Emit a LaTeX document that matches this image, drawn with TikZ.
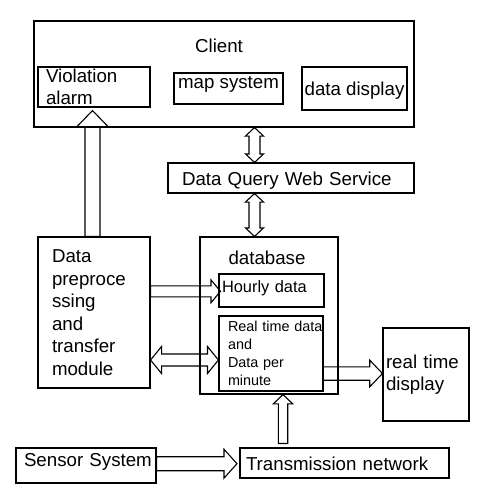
\documentclass[tikz,border=0pt]{standalone}
\usepackage{fontspec}
\setmainfont{Liberation Sans}
\usetikzlibrary{arrows, arrows.meta}
\usetikzlibrary{calc}

% hollow block arrows: from, to, half shaft, half head, head length
\newcommand{\fatarrow}[5]{%
  \coordinate (fa-h) at ($(#2)!#5!(#1)$);
  \draw ($(#1)!#3!90:(#2)$) -- ($(fa-h)!#3!90:(#2)$) -- ($(fa-h)!#4!90:(#2)$) -- (#2)
    -- ($(fa-h)!#4!-90:(#2)$) -- ($(fa-h)!#3!-90:(#2)$) -- ($(#1)!#3!-90:(#2)$) -- cycle;}
\newcommand{\fatdarrow}[5]{%
  \coordinate (fa-a) at ($(#1)!#5!(#2)$);
  \coordinate (fa-b) at ($(#2)!#5!(#1)$);
  \draw (#1) -- ($(fa-a)!#4!90:(#2)$) -- ($(fa-a)!#3!90:(#2)$) -- ($(fa-b)!#3!90:(#2)$)
    -- ($(fa-b)!#4!90:(#2)$) -- (#2) -- ($(fa-b)!#4!-90:(#2)$) -- ($(fa-b)!#3!-90:(#2)$)
    -- ($(fa-a)!#3!-90:(#2)$) -- ($(fa-a)!#4!-90:(#2)$) -- cycle;}

\begin{document}
\begin{tikzpicture}[x=1pt, y=-1pt, line width=1.1pt,
    blk/.style={draw, rectangle, inner sep=0pt, align=left, font=\fontsize{18.7}{22.5}\selectfont},
    one/.style={text height=13.4pt, text depth=3.9pt},
    ttl/.style={anchor=base, inner sep=0pt, font=\fontsize{18.7}{22.5}\selectfont}]
  \useasboundingbox (0,0) rectangle (480,498);

  % client side
  \node[blk, minimum width=380pt, minimum height=106pt] (client) at (224,74) {};
  \node[ttl] (clientname) at (219,52.3) {Client};
  \node[blk, minimum width=112pt, minimum height=40pt, text width=96pt, inner xsep=8pt] (alarm) at (94,87) {Violation\\alarm};
  \node[blk, one, minimum width=109pt, minimum height=31pt, inner xsep=2pt, text depth=13.6pt, align=center] (map) at (228.5,88.5) {map system};
  \node[blk, one, minimum width=105pt, minimum height=43pt, inner xsep=2pt, text depth=0.4pt, align=center] (display) at (354.5,88.5) {data display};
  \node[blk, one, minimum width=246pt, minimum height=30pt, text width=218pt, inner xsep=14pt, text height=19.3pt] (query) at (291,178) {Data Query Web Service};

  % database side
  \node[blk, minimum width=112pt, minimum height=151pt, text width=84pt, inner xsep=14pt] (prep) at (94,312.5) {Data\\preproce\\ssing\\and\\transfer\\module};
  \node[blk, minimum width=138pt, minimum height=157pt] (db) at (269,315.5) {};
  \node[ttl] (dbname) at (267,264.3) {database};
  \node[blk, minimum width=105pt, minimum height=33pt, text width=99pt, inner xsep=3pt, font=\fontsize{16.4}{19.7}\selectfont, text height=11.7pt, text depth=7.3pt] (hourly) at (271.5,290.5) {Hourly data};
  \node[blk, minimum width=104pt, minimum height=75pt, text width=86pt, inner xsep=9pt, font=\fontsize{14.4}{17.8}\selectfont] (realtime) at (271,353.5) {\mbox{Real time data}\\and\\Data per\\minute};
  \node[blk, minimum width=86pt, minimum height=93pt, text width=80pt, inner xsep=3pt] (rtdisplay) at (426,374.5) {real time\\display};
  \node[blk, one, minimum width=140pt, minimum height=35pt, text width=124pt, inner xsep=8pt, text depth=12.4pt] (sensor) at (86,465.5) {\mbox{Sensor System}};
  \node[blk, one, minimum width=209pt, minimum height=30pt, text width=197pt, inner xsep=6pt, text height=17.9pt] (trans) at (344.5,463) {Transmission network};

  % arrows
  \coordinate (a1) at ($(prep.north)+(-1.5,0)$);
  \coordinate (a2) at ($(alarm.south)+(-1.5,3)$);
  \fatarrow{a1}{a2}{7.5pt}{15.5pt}{16pt}
  \coordinate (b1) at ($(client.south)+(30.5,0)$);
  \coordinate (b2) at (b1 |- query.north);
  \fatdarrow{b1}{b2}{5.5pt}{9pt}{8.5pt}
  \coordinate (c1) at (b1 |- query.south);
  \coordinate (c2) at (b1 |- db.north);
  \fatdarrow{c1}{c2}{5.5pt}{9pt}{8.5pt}
  \coordinate (d1) at ($(prep.east |- hourly.west)+(0,0.8)$);
  \coordinate (d2) at ($(hourly.west)+(2,0.8)$);
  \fatarrow{d1}{d2}{5.5pt}{11.5pt}{9.5pt}
  \coordinate (e2) at ($(realtime.west)+(0,6.5)$);
  \coordinate (e1) at (prep.east |- e2);
  \fatdarrow{e1}{e2}{6pt}{13.5pt}{11pt}
  \coordinate (f2) at ($(rtdisplay.west)+(0,-1)$);
  \coordinate (f1) at ($(realtime.east |- f2)+(-1,0)$);
  \fatarrow{f1}{f2}{6.7pt}{13.3pt}{12.7pt}
  \coordinate (g2) at ($(db.south)+(14,0)$);
  \coordinate (g1) at ($(g2 |- trans.north)+(0,-4)$);
  \fatarrow{g1}{g2}{4.7pt}{9.7pt}{9.3pt}
  \coordinate (h2) at ($(trans.west)+(-2.5,0.7)$);
  \coordinate (h1) at (sensor.east |- h2);
  \fatarrow{h1}{h2}{7pt}{14.5pt}{13pt}
\end{tikzpicture}
\end{document}
